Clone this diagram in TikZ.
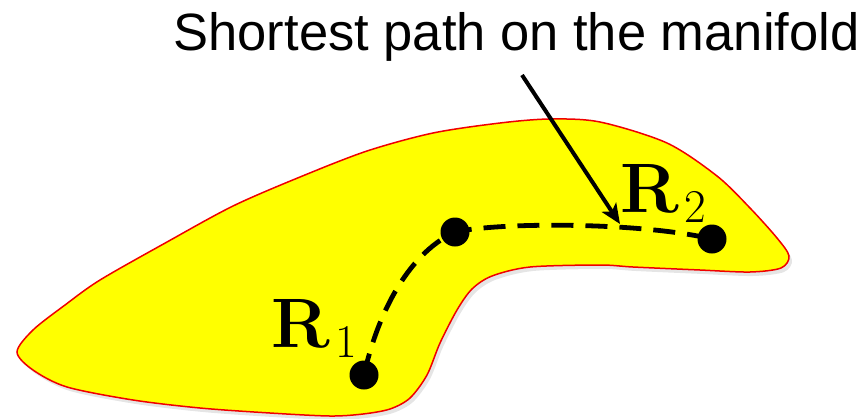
\documentclass[tikz,border=0pt]{standalone}
\usepackage{fontspec}
\newfontfamily\arialfont{Liberation Sans}
\usetikzlibrary{arrows.meta}
\definecolor{manyellow}{RGB}{255,255,0}
\definecolor{manred}{RGB}{240,0,0}
\newcommand{\rlabel}[1]{{\bfseries R}\kern6pt\raisebox{-10pt}{\fontsize{47}{50}\selectfont #1}}
\begin{document}
\begin{tikzpicture}[x=1pt,y=-1pt,
  blob/.style={fill=manyellow,draw=manred,line width=1.5pt},
  dot/.style={circle,fill=black,inner sep=0pt,minimum size=29pt},
  geod/.style={line width=4.8pt,dash pattern=on 22pt off 12pt},
  pointer/.style={line width=4pt,-{Stealth[length=20pt,width=17pt,inset=5pt]}},
  lbl/.style={inner sep=0pt,font=\fontsize{70}{80}\selectfont},
  title/.style={inner sep=0pt,font=\arialfont\fontsize{52.5}{60}\selectfont}]
\useasboundingbox (0,0) rectangle (866,418);
\def\blobpts{(17,352) (33,370) (67,387) (133,400) (200,408) (270,413)
 (330,416) (363,414) (390,409) (410,398) (427,375) (440,343) (457,310)
 (472,289) (492,276) (530,267) (600,265) (633,267) (700,270) (750,272)
 (781,268) (789,256) (777,238) (750,208) (717,176) (667,143) (600,122)
 (550,119) (500,123) (433,133) (367,151) (300,177) (233,206) (167,242)
 (100,280) (65,305) (33,330)}
% shadow
\begin{scope}[shift={(3,4)}]
\fill[black,opacity=0.10] plot[smooth cycle,tension=0.5] coordinates {\blobpts};
\end{scope}
% manifold
\draw[blob] plot[smooth cycle,tension=0.5] coordinates {\blobpts};
% points
\node[dot] (r1) at (364,375) {};
\node[dot] (m) at (455,232) {};
\node[dot] (r2) at (712,239) {};
% geodesic
\draw[geod] (r1.center) .. controls (376,320) and (405,255) .. (m.center)
  .. controls (500,222) and (640,222) .. (r2.center);
% labels
\node[lbl,anchor=base west] (l1) at (271,347) {\rlabel{1}};
\node[lbl,anchor=base west] (l2) at (620,212) {\rlabel{2}};
% title and arrow
\node[title,anchor=base] (t) at (516.5,50) {Shortest path on the manifold};
\coordinate (a0) at (522,75);
\coordinate (tip) at (620,224);
\draw[pointer] (a0) -- (tip);
\end{tikzpicture}
\end{document}
